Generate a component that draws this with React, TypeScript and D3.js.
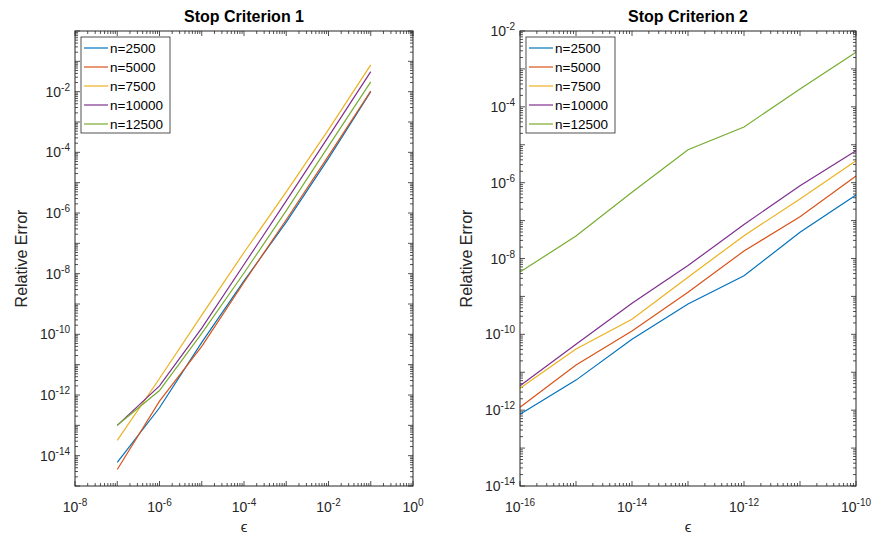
import React from "react";
import * as d3 from "d3";

const seriesNames = ["n=2500", "n=5000", "n=7500", "n=10000", "n=12500"];
const colors = ["#0072BD", "#D95319", "#EDB120", "#7E2F8E", "#77AC30"];

// Stop Criterion 1
const eps1 = [1e-7, 1e-6, 1e-5, 1e-4, 1e-3, 1e-2, 1e-1];
const c1_n2500 = [6.0e-15, 3.8e-13, 5.4e-11, 5.8e-9, 5.0e-7, 6.3e-5, 1.0e-2];
const c1_n5000 = [3.5e-15, 6.3e-13, 4.0e-11, 5.2e-9, 6.0e-7, 7.6e-5, 1.05e-2];
const c1_n7500 = [3.2e-14, 3.5e-12, 4.3e-10, 5.0e-8, 5.0e-6, 5.6e-4, 7.6e-2];
const c1_n10000 = [1.0e-13, 2.0e-12, 1.6e-10, 2.0e-8, 2.5e-6, 3.3e-4, 4.6e-2];
const c1_n12500 = [1.0e-13, 1.4e-12, 1.07e-10, 1.05e-8, 1.2e-6, 1.6e-4, 2.1e-2];

// Stop Criterion 2
const eps2 = [1e-16, 1e-15, 1e-14, 1e-13, 1e-12, 1e-11, 1e-10];
const c2_n2500 = [7.8e-13, 6.2e-12, 7.4e-11, 6.3e-10, 3.5e-9, 4.9e-8, 4.7e-7];
const c2_n5000 = [1.2e-12, 1.55e-11, 1.23e-10, 1.29e-9, 1.58e-8, 1.26e-7, 1.5e-6];
const c2_n7500 = [3.8e-12, 4.1e-11, 2.5e-10, 3.2e-9, 4.0e-8, 3.7e-7, 3.8e-6];
const c2_n10000 = [4.4e-12, 5.5e-11, 6.6e-10, 6.5e-9, 7.9e-8, 8.3e-7, 6.9e-6];
const c2_n12500 = [4.4e-9, 3.9e-8, 5.6e-7, 7.4e-6, 2.95e-5, 2.95e-4, 2.75e-3];

const xTicks1 = [-8, -6, -4, -2, 0];
const yTicks1 = [-14, -12, -10, -8, -6, -4, -2];
const xTicks2 = [-16, -14, -12, -10];
const yTicks2 = [-14, -12, -10, -8, -6, -4, -2];

const AX = "#262626";
const FONT = "'Liberation Sans', Arial, Helvetica, sans-serif";

type PanelProps = {
  box: { x0: number; x1: number; y0: number; y1: number };
  xDom: [number, number];
  yDom: [number, number];
  xs: number[];
  ys: number[][];
  xTicks: number[];
  yTicks: number[];
  title: string;
};

function Label({ x, y, exp, anchor }: { x: number; y: number; exp: number; anchor: "middle" | "end" }) {
  return (
    <text x={x} y={y} textAnchor={anchor} fontSize={14} fill={AX} fontFamily={FONT}>
      <tspan>10</tspan>
      <tspan dy={-6} fontSize={10}>{String(exp)}</tspan>
    </text>
  );
}

function Panel({ box, xDom, yDom, xs, ys, xTicks, yTicks, title }: PanelProps) {
  const x = d3.scaleLog().domain(xDom).range([box.x0, box.x1]);
  const y = d3.scaleLog().domain(yDom).range([box.y1, box.y0]);
  const line = d3
    .line<[number, number]>()
    .x((d) => x(d[0]))
    .y((d) => y(d[1]));

  const ticksFor = (dom: [number, number]) => {
    const lo = Math.round(Math.log10(dom[0]));
    const hi = Math.round(Math.log10(dom[1]));
    const major: number[] = [];
    const minor: number[] = [];
    for (let e = lo; e <= hi; e++) {
      major.push(Math.pow(10, e));
      if (e < hi) for (let k = 2; k <= 9; k++) minor.push(k * Math.pow(10, e));
    }
    return { major, minor };
  };
  const xt = ticksFor(xDom);
  const yt = ticksFor(yDom);
  const MJ = 5;
  const MN = 3;

  const legX = box.x0 + 6;
  const legY = box.y0 + 6;
  const cx = (box.x0 + box.x1) / 2;
  const cy = (box.y0 + box.y1) / 2;

  return (
    <g>
      <text x={cx} y={22} textAnchor="middle" fontSize={16} fontWeight="bold" fill="#000" fontFamily={FONT}>
        {title}
      </text>
      <g stroke={AX} strokeWidth={0.8}>
        {xt.minor.map((v, i) => (
          <g key={"xm" + i}>
            <line x1={x(v)} x2={x(v)} y1={box.y1} y2={box.y1 - MN} />
            <line x1={x(v)} x2={x(v)} y1={box.y0} y2={box.y0 + MN} />
          </g>
        ))}
        {xt.major.map((v, i) => (
          <g key={"xM" + i}>
            <line x1={x(v)} x2={x(v)} y1={box.y1} y2={box.y1 - MJ} />
            <line x1={x(v)} x2={x(v)} y1={box.y0} y2={box.y0 + MJ} />
          </g>
        ))}
        {yt.minor.map((v, i) => (
          <g key={"ym" + i}>
            <line y1={y(v)} y2={y(v)} x1={box.x0} x2={box.x0 + MN} />
            <line y1={y(v)} y2={y(v)} x1={box.x1} x2={box.x1 - MN} />
          </g>
        ))}
        {yt.major.map((v, i) => (
          <g key={"yM" + i}>
            <line y1={y(v)} y2={y(v)} x1={box.x0} x2={box.x0 + MJ} />
            <line y1={y(v)} y2={y(v)} x1={box.x1} x2={box.x1 - MJ} />
          </g>
        ))}
      </g>
      {ys.map((s, si) => (
        <path
          key={"s" + si}
          d={line(xs.map((xv, i) => [xv, s[i]] as [number, number])) || ""}
          fill="none"
          stroke={colors[si]}
          strokeWidth={1.2}
        />
      ))}
      <rect x={box.x0} y={box.y0} width={box.x1 - box.x0} height={box.y1 - box.y0} fill="none" stroke={AX} strokeWidth={1} />
      {xTicks.map((e) => (
        <Label key={"xl" + e} x={x(Math.pow(10, e))} y={box.y1 + 26} exp={e} anchor="middle" />
      ))}
      {yTicks.map((e) => (
        <Label key={"yl" + e} x={box.x0 - 5} y={y(Math.pow(10, e)) + 5} exp={e} anchor="end" />
      ))}
      <text x={cx} y={532} textAnchor="middle" fontSize={15} fill={AX} fontFamily={FONT}>
        ϵ
      </text>
      <text
        transform={`translate(${box.x0 - 48},${cy}) rotate(-90)`}
        textAnchor="middle"
        fontSize={16}
        fill={AX}
        fontFamily={FONT}
      >
        Relative Error
      </text>
      <g>
        <rect x={legX} y={legY} width={89} height={96} fill="#fff" stroke={AX} strokeWidth={0.8} />
        {seriesNames.map((n, i) => (
          <g key={"lg" + i}>
            <line x1={legX + 3} x2={legX + 27} y1={legY + 11 + i * 19} y2={legY + 11 + i * 19} stroke={colors[i]} strokeWidth={1.2} />
            <text x={legX + 29} y={legY + 16 + i * 19} fontSize={13.5} fill="#000" fontFamily={FONT}>
              {n}
            </text>
          </g>
        ))}
      </g>
    </g>
  );
}

export default function App() {
  return (
    <svg width={876} height={538} style={{ position: "absolute", left: 0, top: 0, background: "#fff" }}>
      <rect width={876} height={538} fill="#fff" />
      <Panel
        box={{ x0: 75, x1: 413, y0: 31, y1: 486 }}
        xDom={[1e-8, 1]}
        yDom={[1e-15, 1]}
        xs={eps1}
        ys={[c1_n2500, c1_n5000, c1_n7500, c1_n10000, c1_n12500]}
        xTicks={xTicks1}
        yTicks={yTicks1}
        title="Stop Criterion 1"
      />
      <Panel
        box={{ x0: 520, x1: 856, y0: 31, y1: 486 }}
        xDom={[1e-16, 1e-10]}
        yDom={[1e-14, 1e-2]}
        xs={eps2}
        ys={[c2_n2500, c2_n5000, c2_n7500, c2_n10000, c2_n12500]}
        xTicks={xTicks2}
        yTicks={yTicks2}
        title="Stop Criterion 2"
      />
    </svg>
  );
}
